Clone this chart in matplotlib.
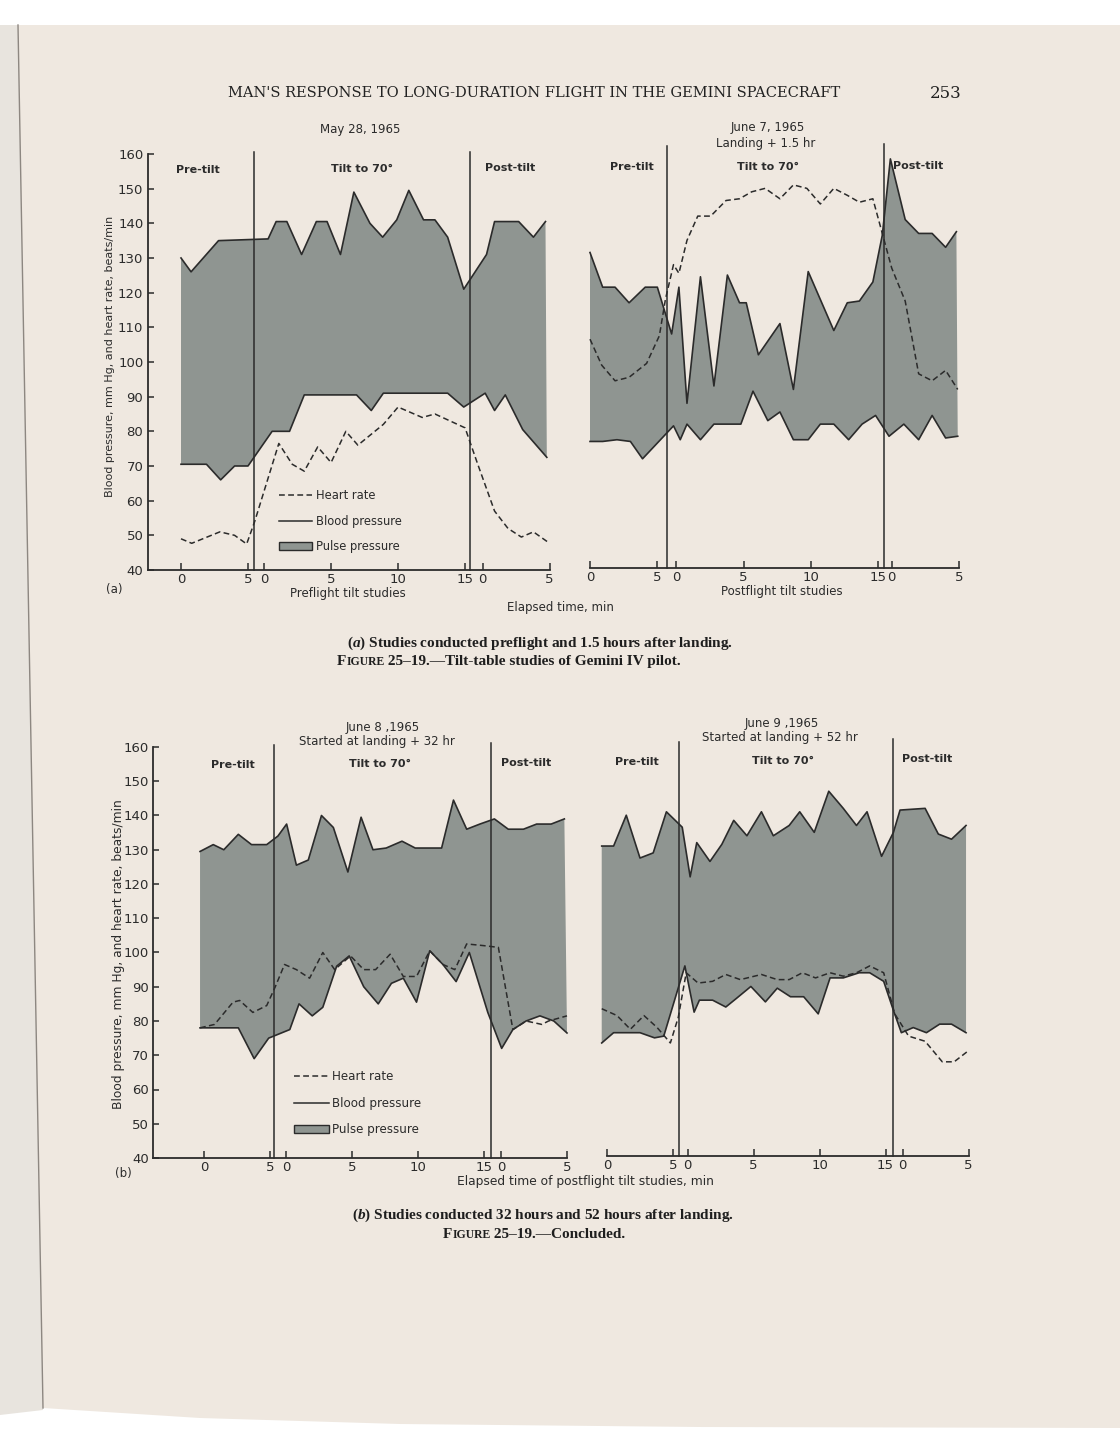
import matplotlib.pyplot as plt
from matplotlib.lines import Line2D
from matplotlib.patches import Patch, Polygon

W, H = 1120, 1454
INK = '#2b2b2b'
FILL = '#8f9591'
PAPER = '#efe8e0'

plt.rcParams['font.family'] = ['DejaVu Sans']
plt.rcParams['mathtext.fontset'] = 'custom'
plt.rcParams['mathtext.it'] = 'Liberation Serif:italic:bold'
plt.rcParams['mathtext.rm'] = 'Liberation Serif:bold'

# x values are minutes along the joined axis: pre-tilt 0-5, then the tilt
# segment (0-15) and the post-tilt segment (0-5), each shifted by its offset
tick_labels = ['0', '5', '0', '5', '10', '15', '0', '5']

# May 28, 1965 - preflight
may28_sys_x = [0, 0.75, 2.8, 6.5, 7.1, 7.9, 9.0, 10.1, 10.9, 11.9, 12.9, 14.1, 15.05, 16.1,
               17.0, 18.1, 18.95, 19.9, 21.1, 22.8, 23.4, 25.2, 26.3, 27.2]
may28_sys_y = [130, 126, 135, 135.5, 140.5, 140.5, 131, 140.5, 140.5, 131, 149, 140, 136, 141,
               149.5, 141, 141, 136, 121, 131, 140.5, 140.5, 136, 140.5]
may28_dia_x = [0, 1.9, 2.96, 4.0, 5.0, 6.8, 8.1, 9.2, 13.1, 14.2, 15.1, 19.9, 21.1, 22.7,
               23.4, 24.2, 25.5, 27.3]
may28_dia_y = [70.5, 70.5, 66, 70, 70, 80, 80, 90.5, 90.5, 86, 91, 91, 87, 91, 86, 90.5, 80.5, 72.5]
may28_hr_x = [0, 0.8, 2.9, 4.0, 4.9, 5.5, 7.3, 8.3, 9.2, 10.2, 11.2, 12.3, 13.2, 15.1, 16.2,
              18.0, 18.95, 21.2, 22.1, 23.4, 24.4, 25.4, 26.3, 27.4]
may28_hr_y = [49, 47.7, 51, 50, 47.5, 54, 76.5, 70.5, 68.5, 75.5, 71, 80, 76, 82, 87, 84, 85,
              81, 71, 57, 52, 49.5, 51, 48]

# June 7, 1965 - landing + 1.5 hr
jun7_sys_x = [0, 0.94, 1.86, 2.9, 4.1, 5.0, 6.06, 6.6, 7.2, 8.2, 9.2, 10.2, 11.1, 11.6, 12.5,
              14.1, 15.1, 16.2, 18.1, 19.1, 20.0, 21.0, 21.7, 22.3, 23.4, 24.4, 25.4, 26.4, 27.2]
jun7_sys_y = [131, 121, 121, 116.5, 121, 121, 107.5, 121, 87.5, 124, 92.5, 124.5, 116.5, 116.5,
              101.5, 110.5, 91.5, 125.5, 108.5, 116.5, 117, 122.5, 136, 158, 140.5, 136.5,
              136.5, 132.5, 137]
jun7_dia_x = [0, 0.94, 2.0, 3.0, 3.9, 6.2, 6.7, 7.2, 8.2, 9.2, 11.2, 12.1, 13.2, 14.1, 15.1,
              16.2, 17.1, 18.1, 19.2, 20.2, 21.2, 22.2, 23.3, 24.4, 25.4, 26.4, 27.3]
jun7_dia_y = [76.5, 76.5, 77, 76.5, 71.5, 81, 77, 81.5, 77, 81.5, 81.5, 91, 82.5, 85, 77, 77,
              81.5, 81.5, 77, 81.5, 84, 78, 81.5, 77, 84, 77.5, 78]
jun7_hr_x = [0, 0.87, 1.86, 2.9, 4.2, 5.15, 5.6, 6.2, 6.6, 7.2, 8.0, 8.96, 10.1, 11.1, 12.0,
             13.0, 14.1, 15.1, 16.1, 17.1, 18.1, 19.1, 20.0, 21.0, 21.7, 22.4, 23.4, 24.4,
             25.4, 26.4, 27.3]
jun7_hr_y = [106, 98.5, 94, 95, 99, 107, 117.5, 127.5, 125, 134.5, 141.5, 141.5, 146, 146.5,
             148.5, 149.5, 146.5, 150.5, 149.5, 145, 149.5, 147.5, 145.5, 146.5, 136.5, 126.5,
             117, 96, 94, 97, 91.5]

# June 8, 1965 - landing + 32 hr
jun8_sys_x = [-0.3, 0.7, 1.5, 2.6, 3.6, 4.75, 5.6, 6.26, 7.0, 7.9, 8.9, 9.8, 10.9, 11.9, 12.8,
              13.8, 15.0, 16.0, 18.0, 18.9, 19.9, 20.9, 22.0, 23.05, 24.2, 25.2, 26.3, 27.3]
jun8_sys_y = [129.5, 131.5, 130, 134.5, 131.5, 131.5, 134, 137.5, 125.5, 127, 140, 136.5, 123.5,
              139.5, 130, 130.5, 132.5, 130.5, 130.5, 144.5, 136, 137.5, 139, 136, 136, 137.5,
              137.5, 139]
jun8_dia_x = [-0.3, 2.6, 3.8, 4.9, 6.5, 7.2, 8.2, 9.0, 10.05, 11.0, 12.1, 13.2, 14.2, 15.1, 16.1,
              17.1, 18.1, 19.1, 20.1, 21.5, 22.55, 23.4, 24.4, 25.45, 26.5, 27.5]
jun8_dia_y = [78, 78, 69, 75, 77.5, 85, 81.5, 84, 96, 99, 90, 85, 91, 92.5, 85.5, 100.5, 96.5,
              91.5, 100, 82.5, 72, 77.5, 80, 81.5, 80, 76.5]
jun8_hr_x = [-0.3, 0.8, 2.2, 2.7, 3.7, 4.75, 5.4, 6.1, 7.0, 8.0, 9.0, 9.9, 11.1, 12.1, 13.0,
             14.1, 15.1, 16.1, 17.1, 18.1, 19.0, 19.9, 21.2, 22.3, 23.4, 24.4, 25.6, 26.1, 27.5]
jun8_hr_y = [78, 79, 85.5, 86, 82.5, 84.5, 90, 96.5, 95, 92.5, 100, 95, 99, 95, 95, 99.5, 93,
             93, 100.5, 96.5, 95, 102.5, 102, 101.5, 77.5, 80, 79, 80, 81.5]

# June 9, 1965 - landing + 52 hr
jun9_sys_x = [-0.4, 0.5, 1.46, 2.5, 3.5, 4.5, 5.7, 6.3, 6.8, 7.8, 8.7, 9.6, 10.6, 11.7, 12.6,
              13.8, 14.6, 15.7, 16.8, 17.9, 18.9, 19.7, 20.8, 21.7, 22.2, 24.1, 25.1, 26.1, 27.2]
jun9_sys_y = [130.5, 130.5, 139.5, 127, 128.5, 140.5, 136, 121.5, 131.5, 126, 131, 138, 133.5,
              140.5, 133.5, 136.5, 140.5, 134.5, 146.5, 141.5, 136.5, 140.5, 127.5, 134.5, 141,
              141.5, 134, 132.5, 136.5]
jun9_dia_x = [-0.4, 0.5, 2.5, 3.6, 4.3, 5.9, 6.6, 7.0, 8.0, 9.0, 9.8, 10.9, 12.0, 12.9, 13.9,
              14.9, 16.0, 16.9, 17.9, 19.1, 19.9, 20.96, 21.7, 22.3, 23.2, 24.2, 25.2, 26.1, 27.2]
jun9_dia_y = [73, 76, 76, 74.5, 75, 95.5, 82, 85.5, 85.5, 83.5, 86, 89.5, 85, 89, 86.5, 86.5,
              81.5, 92, 92, 93.5, 93.5, 91, 82.5, 76, 77.5, 76, 78.5, 78.5, 76]
jun9_hr_x = [-0.4, 0.76, 1.77, 2.8, 3.8, 4.8, 5.4, 6.0, 6.9, 8.0, 9.0, 10.1, 11.7, 12.9, 13.8,
             14.8, 15.8, 16.9, 17.9, 18.9, 19.9, 20.96, 21.8, 22.85, 24.1, 25.4, 26.3, 27.3]
jun9_hr_y = [83, 81, 77, 81, 77.5, 73, 80.5, 93.5, 90.5, 91, 93, 91.5, 93, 91.5, 91.5, 93.5, 92,
             93.5, 92.5, 93.5, 95.5, 93.5, 81.5, 75, 73.5, 67.5, 67.5, 70.5]

fig = plt.figure(figsize=(W / 100, H / 100), dpi=100, facecolor='white')

# page background, drawn in pixel coordinates
page = fig.add_axes([0, 0, 1, 1])
page.set_xlim(0, W)
page.set_ylim(H, 0)
page.axis('off')
page.set_zorder(-1)
page.add_patch(Polygon([(0, 25), (18, 25), (43, 1410), (0, 1415)], closed=True,
                       facecolor='#e8e4de', edgecolor='none'))
page.add_patch(Polygon([(18, 25), (1120, 25), (1120, 1428), (700, 1427), (400, 1424),
                        (200, 1418), (43, 1408)], closed=True,
                       facecolor=PAPER, edgecolor='none'))
page.plot([18, 43], [25, 1408], color='#8d8781', lw=1)


def panel(x0, unit, xlim, y40, yunit, ylim):
    left = x0 + xlim[0] * unit
    right = x0 + xlim[1] * unit
    top = y40 - (ylim[1] - 40) * yunit
    ax = fig.add_axes([left / W, 1 - y40 / H, (right - left) / W, (y40 - top) / H])
    ax.set_xlim(*xlim)
    ax.set_ylim(*ylim)
    ax.patch.set_alpha(0)
    return ax


def draw(ax, sx, sy, dx, dy, hx, hy, tilt_off, post_off, dividers, left_axis):
    ax.fill(list(sx) + list(dx[::-1]), list(sy) + list(dy[::-1]),
            color=FILL, lw=0, zorder=1, clip_on=False)
    ax.plot(sx, sy, color=INK, lw=1.2, zorder=3, clip_on=False)
    ax.plot(dx, dy, color=INK, lw=1.2, zorder=3, clip_on=False)
    ax.plot(hx, hy, color=INK, lw=1.1, dashes=(3.8, 2.2), zorder=4, clip_on=False)
    for xd, top in dividers:
        ax.plot([xd, xd], [40, top], color=INK, lw=1.1, zorder=5, clip_on=False)

    ticks = [0, 5, tilt_off, tilt_off + 5, tilt_off + 10, tilt_off + 15, post_off, post_off + 5]
    ax.set_xticks(ticks)
    ax.set_xticklabels(tick_labels)
    ax.tick_params(axis='x', direction='in', length=5, width=1.1, color=INK,
                   labelsize=9.5, labelcolor=INK, pad=2.5)
    for s in ['top', 'right']:
        ax.spines[s].set_visible(False)
    ax.spines['bottom'].set_color(INK)
    ax.spines['bottom'].set_linewidth(1.3)
    if left_axis:
        ax.spines['left'].set_color(INK)
        ax.spines['left'].set_linewidth(1.3)
        ax.spines['left'].set_bounds(40, 160)
        ax.set_yticks(range(40, 161, 10))
        ax.tick_params(axis='y', direction='in', length=4, width=1.1, color=INK,
                       labelsize=9.5, labelcolor=INK, pad=3)
    else:
        ax.spines['left'].set_visible(False)
        ax.set_yticks([])
        ax.spines['bottom'].set_bounds(0, post_off + 5)


def legend(ax, x, y, size, spacing):
    handles = [Line2D([], [], color=INK, lw=1.1, dashes=(3.8, 2.2)),
               Line2D([], [], color=INK, lw=1.1),
               Patch(facecolor=FILL, edgecolor=INK, lw=1)]
    ax.legend(handles, ['Heart rate', 'Blood pressure', 'Pulse pressure'],
              loc='upper left', bbox_to_anchor=(x, y), bbox_transform=page.transData,
              frameon=False, fontsize=size, handlelength=2.9, handleheight=0.7,
              handletextpad=0.3, labelspacing=spacing, borderpad=0, borderaxespad=0,
              labelcolor=INK)


ax1 = panel(181, 13.4, (-2.5, 27.55), 570, 3.467, (40, 160.6))
draw(ax1, may28_sys_x, may28_sys_y, may28_dia_x, may28_dia_y, may28_hr_x, may28_hr_y,
     6.2, 22.5, [(5.45, 160.5), (21.6, 160.5)], True)
legend(ax1, 279, 489, 8.3, 1.1)

ax2 = panel(590, 13.47, (0, 27.45), 568, 3.467, (40, 162.5))
draw(ax2, jun7_sys_x, jun7_sys_y, jun7_dia_x, jun7_dia_y, jun7_hr_x, jun7_hr_y,
     6.4, 22.4, [(5.72, 161.7), (21.83, 162.3)], False)

ax3 = panel(204, 13.2, (-3.86, 27.5), 1158, 3.425, (40, 161.3))
draw(ax3, jun8_sys_x, jun8_sys_y, jun8_dia_x, jun8_dia_y, jun8_hr_x, jun8_hr_y,
     6.2, 22.5, [(5.3, 160.6), (21.74, 161.2)], True)
legend(ax3, 294, 1070, 8.6, 1.15)

ax4 = panel(607, 13.2, (0, 27.4), 1156, 3.425, (40, 162))
draw(ax4, jun9_sys_x, jun9_sys_y, jun9_dia_x, jun9_dia_y, jun9_hr_x, jun9_hr_y,
     6.1, 22.4, [(5.45, 160.9), (21.67, 161.7)], False)

# lettering
def label(x, y, s, size=8.5, **kw):
    page.text(x, y, s, fontsize=size, color=INK, ha='center', va='center', **kw)


label(360, 130, 'May 28, 1965')
label(768, 128, 'June 7, 1965')
label(766, 144, 'Landing + 1.5 hr')
label(383, 727, 'June 8 ,1965')
label(377, 741, 'Started at landing + 32 hr')
label(782, 723, 'June 9 ,1965')
label(780, 737, 'Started at landing + 52 hr')

for x, y, s in [(198, 170, 'Pre-tilt'), (362, 169, 'Tilt to 70°'), (510, 168, 'Post-tilt'),
                (632, 167, 'Pre-tilt'), (768, 167, 'Tilt to 70°'), (918, 166, 'Post-tilt'),
                (233, 765, 'Pre-tilt'), (380, 764, 'Tilt to 70°'), (526, 763, 'Post-tilt'),
                (637, 762, 'Pre-tilt'), (783, 761, 'Tilt to 70°'), (927, 759, 'Post-tilt')]:
    label(x, y, s, size=8, fontweight='bold')

label(348, 594, 'Preflight tilt studies')
label(782, 591, 'Postflight tilt studies')
label(560, 607, 'Elapsed time, min')
label(585, 1181, 'Elapsed time of postflight tilt studies, min', size=8.8)
label(114, 590, '(a)', size=8.5)
label(123, 1174, '(b)', size=8.5)
label(110, 356, 'Blood pressure, mm Hg, and heart rate, beats/min', size=8, rotation=90)
label(119, 954, 'Blood pressure, mm Hg, and heart rate, beats/min', size=8.8, rotation=90)

# running head and captions
page.text(534, 93, "MAN'S RESPONSE TO LONG-DURATION FLIGHT IN THE GEMINI SPACECRAFT",
          fontsize=10.5, family='DejaVu Serif', color='#222222', ha='center', va='center')
page.text(946, 93, '253', fontsize=12, family='DejaVu Serif', color='#222222',
          ha='center', va='center')

cap = dict(family='Liberation Serif', fontweight='bold', color='#1e1e1e', fontsize=11)
page.text(540, 643, r'($\mathit{a}$) Studies conducted preflight and 1.5 hours after landing.',
          ha='center', va='center', **cap)
page.text(543, 1215, r'($\mathit{b}$) Studies conducted 32 hours and 52 hours after landing.',
          ha='center', va='center', **cap)


def figure_line(x, y, rest):
    t1 = page.text(x, y, 'F', va='bottom', **cap)
    t2 = page.annotate('IGURE', xy=(1, 0), xycoords=t1, va='bottom',
                       family='Liberation Serif', fontweight='bold', color='#1e1e1e',
                       fontsize=8.5)
    page.annotate(rest, xy=(1, 0), xycoords=t2, va='bottom', **cap)


figure_line(337, 668, ' 25–19.—Tilt-table studies of Gemini IV pilot.')
figure_line(443, 1241, ' 25–19.—Concluded.')

fig.savefig('out.png', dpi=100, facecolor='white')
